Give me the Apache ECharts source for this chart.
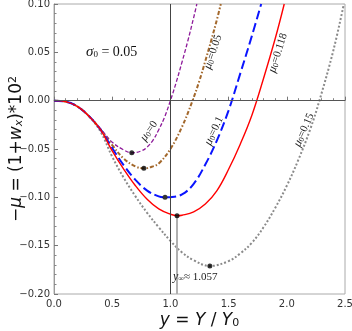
<!DOCTYPE html>
<html>
<head>
<meta charset="utf-8">
<script src="https://cdn.jsdelivr.net/npm/echarts@6/dist/echarts.min.js"></script>
<style>
html,body{margin:0;padding:0;background:#fff;}
#c{width:352px;height:331px;}
</style>
</head>
<body>
<div id="c"></div>
<script>
// ---- data ----
const curveMu0 = [[0,0],[0.1,-0.001],[0.2,-0.006],[0.3,-0.016],[0.4,-0.029],[0.5,-0.043],[0.6,-0.051],[0.668,-0.054],[0.75,-0.052],[0.8,-0.048],[0.85,-0.041],[0.9,-0.030],[0.95,-0.017],[1.0,0],[1.05,0.019],[1.1,0.040],[1.15,0.062],[1.2,0.086],[1.227,0.10]];
const curveMu005 = [[0,0],[0.1,-0.001],[0.2,-0.006],[0.3,-0.016],[0.4,-0.030],[0.5,-0.046],[0.6,-0.060],[0.7,-0.068],[0.772,-0.070],[0.85,-0.068],[0.9,-0.065],[1.0,-0.050],[1.1,-0.027],[1.19,0],[1.25,0.021],[1.3,0.041],[1.35,0.062],[1.4,0.084],[1.433,0.10]];
const curveMu01 = [[0,0],[0.1,-0.001],[0.2,-0.006],[0.3,-0.016],[0.4,-0.030],[0.5,-0.049],[0.6,-0.067],[0.7,-0.082],[0.8,-0.093],[0.9,-0.099],[0.954,-0.100],[1.0,-0.0998],[1.1,-0.097],[1.2,-0.086],[1.3,-0.066],[1.4,-0.041],[1.5,-0.010],[1.6,0.028],[1.7,0.067],[1.78,0.10]];
const curveMu0118 = [[0,0],[0.1,-0.001],[0.2,-0.006],[0.3,-0.016],[0.4,-0.030],[0.5,-0.052],[0.6,-0.071],[0.7,-0.088],[0.8,-0.102],[0.9,-0.112],[1.0,-0.1175],[1.057,-0.119],[1.1,-0.1185],[1.2,-0.115],[1.3,-0.107],[1.4,-0.093],[1.5,-0.071],[1.6,-0.045],[1.7,-0.015],[1.8,0.023],[1.9,0.064],[1.978,0.10]];
const curveMu015 = [[0,0],[0.1,-0.001],[0.2,-0.006],[0.3,-0.016],[0.4,-0.032],[0.5,-0.058],[0.6,-0.080],[0.7,-0.099],[0.8,-0.116],[0.9,-0.131],[1.0,-0.145],[1.1,-0.157],[1.2,-0.165],[1.339,-0.171],[1.5,-0.166],[1.6,-0.158],[1.7,-0.147],[1.8,-0.131],[1.9,-0.111],[2.0,-0.088],[2.1,-0.061],[2.2,-0.030],[2.28,0],[2.4,0.052],[2.49,0.10]];
const minima = [[0.668,-0.054],[0.772,-0.070],[0.954,-0.100],[1.057,-0.119],[1.339,-0.171]];
const yM = 1.057;
const yMinRed = -0.119;
const xTicks = [0, 0.5, 1.0, 1.5, 2.0, 2.5];
const yTicks = [-0.20, -0.15, -0.10, -0.05, 0.00, 0.05, 0.10];
const curveLabels = ['0', '0.05', '0.1', '0.118', '0.15'];
const sigma0 = '0.05';

const chart = echarts.init(document.getElementById('c'), null, {renderer: 'canvas'});

function lineSeries(data, color, width, dash) {
  return {
    type: 'line', data: data, smooth: 0.4, showSymbol: false, symbol: 'none',
    silent: true, animation: false, z: 3,
    lineStyle: {color: color, width: width, type: dash}
  };
}

function muLabel(idx, left, top, rot) {
  return {
    type: 'text', x: left, y: top, rotation: rot * Math.PI / 180, z: 10,
    style: {
      text: '{m|μ}{s|0}{t|=' + curveLabels[idx] + '}',
      align: 'center', verticalAlign: 'middle',
      rich: {
        m: {fontFamily: 'Liberation Serif', fontStyle: 'italic', fontSize: 12, fill: '#222'},
        s: {fontFamily: 'Liberation Serif', fontSize: 8, fill: '#222', verticalAlign: 'bottom'},
        t: {fontFamily: 'Liberation Serif', fontSize: 11, fill: '#222'}
      }
    }
  };
}

const option = {
  animation: false,
  backgroundColor: '#fff',
  grid: {left: 54, right: 7, top: 4, bottom: 37, containLabel: false, outerBoundsMode: 'none',
    show: true, borderColor: '#aaa', borderWidth: 1},
  xAxis: {
    type: 'value', min: xTicks[0], max: xTicks[xTicks.length-1], interval: 0.5,
    name: '{i|y} = {i|Y} / {i|Y}{s|0}', nameLocation: 'middle', nameGap: 18, nameMoveOverlap: false,
    nameTextStyle: {
      fontFamily: 'DejaVu Sans', fontSize: 17, color: '#111', verticalAlign: 'top',
      rich: {
        i: {fontFamily: 'DejaVu Sans', fontStyle: 'italic', fontSize: 17, color: '#111'},
        s: {fontFamily: 'DejaVu Sans', fontSize: 11, color: '#111', verticalAlign: 'bottom'}
      }
    },
    axisLine: {show: true, lineStyle: {color: '#999', width: 1}},
    axisTick: {show: true, inside: true, length: 4, lineStyle: {color: '#777'}},
    minorTick: {show: true, splitNumber: 5, length: 2.5, lineStyle: {color: '#888'}},
    splitLine: {show: false},
    axisLabel: {fontFamily: 'DejaVu Sans', fontSize: 10, color: '#333', margin: 5,
      formatter: v => v.toFixed(1)}
  },
  yAxis: {
    type: 'value', min: yTicks[0], max: yTicks[yTicks.length-1], interval: 0.05,
    name: '−{i|μ} = (1+{i|w}{s|x})*10{p|2}', nameLocation: 'middle', nameGap: 29, nameRotate: 90,
    nameMoveOverlap: false,
    nameTextStyle: {
      fontFamily: 'DejaVu Sans', fontSize: 17, color: '#111',
      rich: {
        i: {fontFamily: 'DejaVu Sans', fontStyle: 'italic', fontSize: 17, color: '#111'},
        s: {fontFamily: 'DejaVu Sans', fontStyle: 'italic', fontSize: 11, color: '#111', verticalAlign: 'bottom'},
        p: {fontFamily: 'DejaVu Sans', fontSize: 11, color: '#111', verticalAlign: 'top'}
      }
    },
    axisLine: {show: true, lineStyle: {color: '#999', width: 1}},
    axisTick: {show: true, inside: true, length: 4, lineStyle: {color: '#777'}},
    minorTick: {show: true, splitNumber: 5, length: 2.5, lineStyle: {color: '#888'}},
    splitLine: {show: false},
    axisLabel: {fontFamily: 'DejaVu Sans', fontSize: 10, color: '#333', margin: 4,
      formatter: v => (v < 0 ? '\u2212' : '') + Math.abs(v).toFixed(2)}
  },
  series: [
    Object.assign(lineSeries(curveMu015, '#8a8a8a', 2, [2, 2]), {
      markLine: {
        silent: true, symbol: 'none', animation: false,
        label: {show: false},
        data: [
          {yAxis: 0, lineStyle: {color: '#555', width: 1, type: 'solid'}},
          {xAxis: 1, lineStyle: {color: '#444', width: 1, type: 'solid'}},
          [{coord: [yM, yTicks[0]], lineStyle: {color: '#b0b0b0', width: 2, type: 'solid'}}, {coord: [yM, yMinRed]}]
        ]
      }
    }),
    lineSeries(curveMu0, '#8e1a9a', 1.3, [4, 2]),
    lineSeries(curveMu005, '#a3682c', 2, [4, 2, 1.5, 2]),
    lineSeries(curveMu01, '#0a14ff', 2, [9, 4]),
    lineSeries(curveMu0118, '#ff0000', 1.4, 'solid'),
    {
      type: 'scatter', data: minima, symbol: 'circle', symbolSize: 5, z: 5, silent: true,
      itemStyle: {color: '#000'}
    }
  ],
  graphic: [
    {
      type: 'text', x: 86, y: 52, z: 10,
      style: {
        text: '{g|σ}{s|0}{t| = ' + sigma0 + '}', verticalAlign: 'middle', align: 'left',
        rich: {
          g: {fontFamily: 'Liberation Serif', fontStyle: 'italic', fontSize: 15, fill: '#111'},
          s: {fontFamily: 'Liberation Serif', fontSize: 9, fill: '#111', verticalAlign: 'bottom'},
          t: {fontFamily: 'Liberation Serif', fontSize: 14, fill: '#111'}
        }
      }
    },
    {
      type: 'text', x: 173, y: 277, z: 10,
      style: {
        text: '{y|y}{s|∞}{t|≈ ' + yM.toFixed(3) + '}', verticalAlign: 'middle', align: 'left',
        rich: {
          y: {fontFamily: 'Liberation Serif', fontStyle: 'italic', fontSize: 12, fill: '#222'},
          s: {fontFamily: 'Liberation Serif', fontSize: 8, fill: '#222', verticalAlign: 'bottom'},
          t: {fontFamily: 'Liberation Serif', fontSize: 11, fill: '#222'}
        }
      }
    },
    muLabel(0, 149, 131, 55),
    muLabel(1, 213, 52, 71),
    muLabel(2, 214, 131, 65),
    muLabel(3, 278, 53, 72),
    muLabel(4, 304, 130, 66)
  ]
};
chart.setOption(option);
</script>
</body>
</html>
